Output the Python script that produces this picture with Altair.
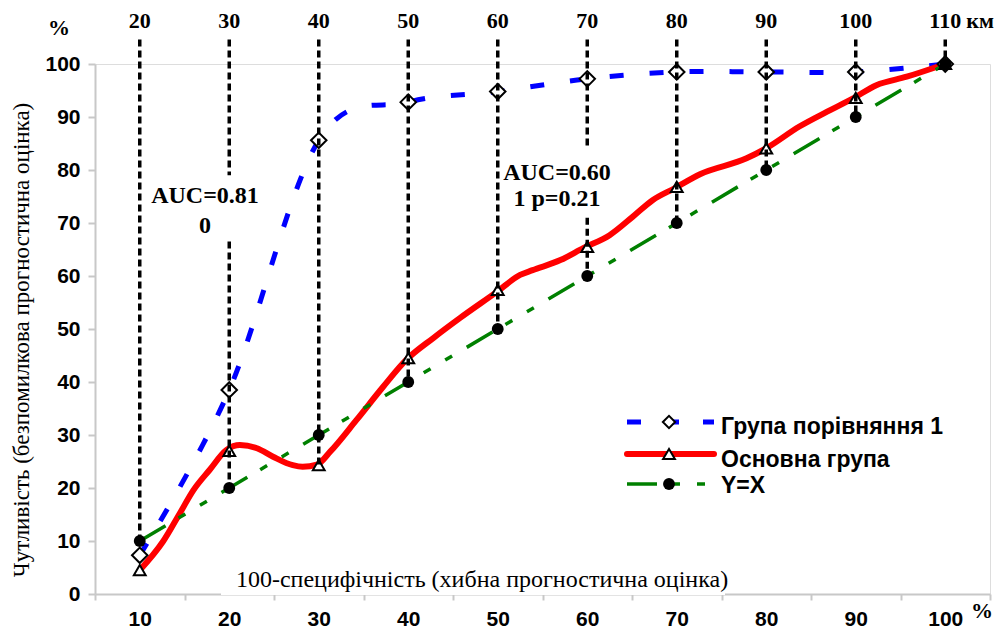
import altair as alt
import pandas as pd

# ---------------- data ----------------
categories = [10, 20, 30, 40, 50, 60, 70, 80, 90, 100]          # 100 - specificity, %
km_labels = [20, 30, 40, 50, 60, 70, 80, 90, 100, 110]          # top scale, km
comparison_group = [7.3, 38.5, 85.6, 92.8, 94.8, 97.2, 98.5, 98.5, 98.5, 100]
main_group = [4.5, 27.0, 24.3, 44.5, 57.4, 65.5, 76.8, 84.1, 93.6, 100]
y_equals_x = [10, 20, 30, 40, 50, 60, 70, 80, 90, 100]

main_curve_x = [10, 12.6, 14.5, 16.0, 17.8, 19.7, 21.2, 23.1, 24.9, 27.1, 28.2, 29.8,
                31.3, 34.2, 37.2, 39.8, 42.8, 45.8, 49.9, 52.5, 53.9, 57.0, 59.6, 62.5,
                65.1, 67.3, 69.8, 72.6, 77.8, 80.0, 83.7, 86.8, 89.7, 92.3, 95.7, 100]
main_curve_y = [4.5, 9.9, 15.3, 19.6, 23.4, 27.2, 28.1, 27.5, 25.9, 24.3, 24.0, 24.4,
                26.9, 32.8, 39.1, 44.2, 48.3, 52.1, 57.0, 60.2, 61.1, 63.0, 65.3, 67.7,
                71.2, 74.3, 76.6, 79.2, 82.2, 84.1, 88.2, 91.0, 93.5, 96.0, 97.6, 100]

drop_x = [10, 20, 20, 30, 40, 50, 60, 60, 70, 80, 90, 100]
drop_top = [104.6, 104.6, 66.5, 104.6, 104.6, 104.6, 104.6, 71.0, 104.6, 104.6, 104.6, 104.6]
drop_bottom = [10, 79.0, 20, 24.3, 40, 50, 84.0, 60, 70, 80, 90, 98.5]

x_tick_values = [5, 15, 25, 35, 45, 55, 65, 75, 85, 95, 105]
y_tick_values = [0, 10, 20, 30, 40, 50, 60, 70, 80, 90, 100]

legend_labels = ["Група порівняння 1", "Основна група", "Y=X"]
y_title = "Чутливість (безпомилкова прогностична оцінка)"
x_title = "100-специфічність (хибна прогностична оцінка)"

# ---------------- tables ----------------
points = pd.DataFrame({"x": categories, "km": km_labels, "comp": comparison_group,
                       "main": main_group, "diag": y_equals_x})
curve = pd.DataFrame({"x": main_curve_x, "y": main_curve_y})
drops = pd.DataFrame({"x": drop_x, "top": drop_top, "bottom": drop_bottom})
dummy = pd.DataFrame({"d": [0]})

SERIF = "Liberation Serif"
SANS = "Liberation Sans"
BLUE, RED, GREEN = "#0000ff", "#ff0000", "#008000"

x_axis = alt.Axis(values=x_tick_values, title=None, grid=False,
                  domainColor="#c8c8c8", domainWidth=2,
                  tickColor="#c8c8c8", tickWidth=2, tickSize=6,
                  labelOffset=44.75, labelExpr="datum.value < 100 ? datum.value + 5 : ''",
                  labelFlush=False, labelOverlap=False, labelBound=False,
                  labelFont=SANS, labelFontWeight="bold", labelFontSize=21,
                  labelColor="black", labelPadding=8)
y_axis = alt.Axis(values=y_tick_values, title=None, grid=False,
                  domainColor="#c8c8c8", domainWidth=2,
                  tickColor="#c8c8c8", tickWidth=2, tickSize=7,
                  labelFont=SANS, labelFontWeight="bold", labelFontSize=21,
                  labelColor="black", labelPadding=8)


def X(field="x"):
    return alt.X(f"{field}:Q", scale=alt.Scale(domain=[5, 105], nice=False, zero=False),
                 axis=x_axis)


def Y(field):
    return alt.Y(f"{field}:Q", scale=alt.Scale(domain=[0, 100], nice=False, zero=True),
                 axis=y_axis)


base_pts = alt.Chart(points)

blue_line = base_pts.mark_line(color=BLUE, strokeWidth=5, strokeDash=[14, 26],
                               interpolate="cardinal").encode(x=X(), y=Y("comp"))
red_line = alt.Chart(curve).mark_line(color=RED, strokeWidth=6, strokeCap="round",
                                      interpolate="monotone").encode(x=X(), y=Y("y"))
green_line = base_pts.mark_line(color=GREEN, strokeWidth=3.5,
                                strokeDash=[30, 15, 8, 17, 8, 17]).encode(x=X(), y=Y("diag"))

diamonds = base_pts.mark_point(shape="diamond", size=240, filled=True, fill="white",
                               stroke="black", strokeWidth=2, opacity=1).encode(x=X(), y=Y("comp"))
triangles = base_pts.mark_point(shape="triangle-up", size=140, filled=True, fill="white",
                                stroke="black", strokeWidth=2, opacity=1).encode(x=X(), y=Y("main"))
circles = base_pts.mark_point(shape="circle", size=140, filled=True, color="black",
                              opacity=1).encode(x=X(), y=Y("diag"))

droplines = alt.Chart(drops).mark_rule(color="black", strokeWidth=3.5,
                                       strokeDash=[7, 4]).encode(
    x=X(), y=Y("top"), y2="bottom:Q")

top_labels = base_pts.mark_text(font=SERIF, fontWeight="bold", fontSize=22,
                                baseline="alphabetic", color="black").encode(
    x=X(), y=alt.value(-36), text="km:Q")


def txt(text, x, y, font=SERIF, size=22, weight="bold", align="center",
        baseline="alphabetic", angle=0):
    return alt.Chart(dummy).mark_text(text=text, font=font, fontSize=size,
                                      fontWeight=weight, align=align,
                                      baseline=baseline, angle=angle,
                                      color="black").encode(x=alt.value(x), y=alt.value(y))


def seg(x1, x2, y, **style):
    return alt.Chart(dummy).mark_rule(**style).encode(
        x=alt.value(x1), x2=alt.value(x2), y=alt.value(y))


def sym(x, y, **style):
    return alt.Chart(dummy).mark_point(opacity=1, **style).encode(
        x=alt.value(x), y=alt.value(y))


white_box = alt.Chart(dummy).mark_rect(color="white").encode(
    x=alt.value(126), x2=alt.value(630), y=alt.value(499), y2=alt.value(531))

annotations = [
    txt("%", -36, -29),
    txt("км", 899, -36, align="right"),
    txt("%", 887, 554),
    txt("AUC=0.81", 110, 139, size=24),
    txt("0", 110, 169, size=24),
    txt("AUC=0.60", 462, 116, size=24),
    txt("1 p=0.21", 462, 142, size=24),
    txt(x_title, 387, 523, weight="normal", size=24),
    txt(y_title, -73, 276, weight="normal", size=23, baseline="middle", angle=270),
]

legend = [
    seg(532, 619, 358, color=BLUE, strokeWidth=5, strokeDash=[14, 24]),
    sym(574, 358, shape="diamond", size=150, filled=True, fill="white",
        stroke="black", strokeWidth=2),
    txt(legend_labels[0], 626, 370, font=SANS, size=23, align="left"),
    seg(532, 619, 390, color=RED, strokeWidth=6, strokeCap="round"),
    sym(574, 390, shape="triangle-up", size=140, filled=True, fill="white",
        stroke="black", strokeWidth=2),
    txt(legend_labels[1], 626, 403, font=SANS, size=23, align="left"),
    seg(532, 619, 420, color=GREEN, strokeWidth=3.5, strokeDash=[30, 15, 8, 17, 8, 17]),
    sym(574, 420, shape="circle", size=140, filled=True, color="black"),
    txt(legend_labels[2], 626, 429, font=SANS, size=23, align="left"),
]

chart = alt.layer(
    white_box, blue_line, red_line, green_line, diamonds, triangles, circles,
    droplines, top_labels, *annotations, *legend
).properties(
    width=895, height=530,
    autosize=alt.AutoSizeParams(type="none"),
    padding={"left": 87, "top": 56, "right": 5, "bottom": 34},
).configure_view(
    stroke="#8c8c8c", strokeWidth=2
).configure(background="white")

chart.save("out.html", embed_options={"renderer": "svg", "actions": False})
